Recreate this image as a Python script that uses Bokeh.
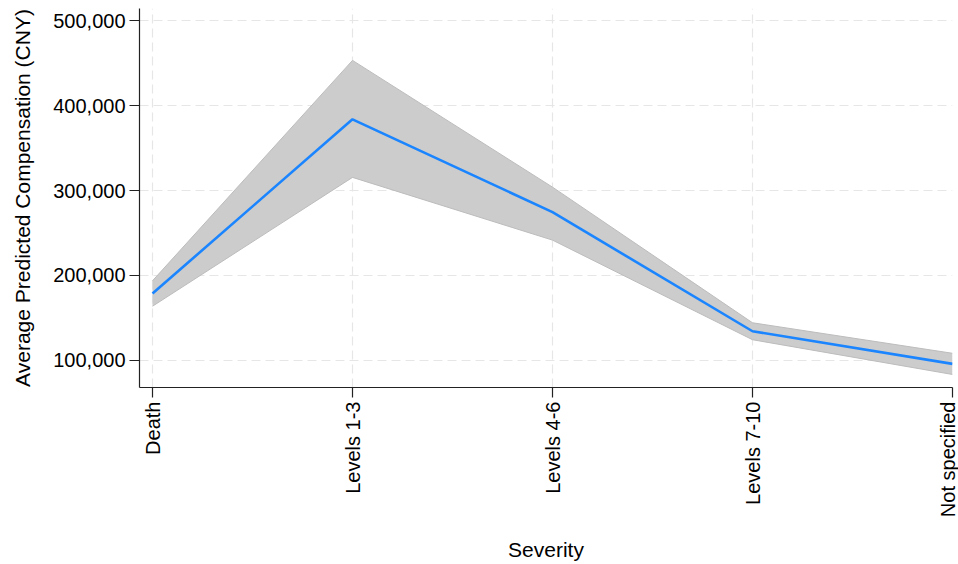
import math
from bokeh.plotting import figure
from bokeh.models import Range1d, FixedTicker, NumeralTickFormatter
from bokeh.embed import file_html
from bokeh.resources import INLINE

categories = ["Death", "Levels 1-3", "Levels 4-6", "Levels 7-10", "Not specified"]
predicted = [178500, 384000, 274500, 134000, 95500]
upper_ci = [193500, 453500, 304000, 144000, 108000]
lower_ci = [163500, 315500, 241500, 124000, 83000]
y_ticks = [100000, 200000, 300000, 400000, 500000]

xs = list(range(len(categories)))
FONT = "Liberation Sans"

p = figure(width=958, height=564, output_backend="svg", toolbar_location=None,
           x_range=Range1d(-0.065, len(categories) - 1), y_range=Range1d(67647, 514706),
           min_border_left=139, min_border_right=6, min_border_top=8, min_border_bottom=176)
p.outline_line_color = None
p.background_fill_color = "white"
p.border_fill_color = "white"

# confidence band
p.varea(x=xs, y1=lower_ci, y2=upper_ci, fill_color="#cccccc", fill_alpha=1.0)
p.line(xs, upper_ci, line_color="#bcbcbc", line_width=1)
p.line(xs, lower_ci, line_color="#bcbcbc", line_width=1)
# predicted line
p.line(xs, predicted, line_color="#1a85ff", line_width=2.6)

# axes
p.xaxis.ticker = FixedTicker(ticks=xs)
p.xaxis.major_label_overrides = {i: c for i, c in enumerate(categories)}
p.xaxis.major_label_orientation = math.pi / 2
p.yaxis.ticker = FixedTicker(ticks=y_ticks)
p.yaxis.formatter = NumeralTickFormatter(format="0,0")

for ax in (p.xaxis[0], p.yaxis[0]):
    ax.axis_line_color = "#222222"
    ax.axis_line_width = 1.2
    ax.major_tick_line_color = "#222222"
    ax.major_tick_line_width = 1.2
    ax.major_tick_out = 10
    ax.major_tick_in = 0
    ax.minor_tick_line_color = None
    ax.major_label_text_font = FONT
    ax.major_label_text_font_size = "20px"
    ax.major_label_text_color = "black"
    ax.major_label_standoff = 4
    ax.axis_label_text_font = FONT
    ax.axis_label_text_font_size = "21px"
    ax.axis_label_text_font_style = "normal"
    ax.axis_label_text_color = "black"

p.xaxis.axis_label = "Severity"
p.yaxis.axis_label = "Average Predicted Compensation (CNY)"
p.xaxis.axis_label_standoff = 18
p.yaxis.axis_label_standoff = 16

for g in (p.xgrid[0], p.ygrid[0]):
    g.grid_line_color = "#e6e6e6"
    g.grid_line_width = 1.2
    g.grid_line_dash = "9 5"
p.xgrid.ticker = FixedTicker(ticks=xs)
p.ygrid.ticker = FixedTicker(ticks=y_ticks)

open("out.html", "w").write(file_html(p, INLINE))
